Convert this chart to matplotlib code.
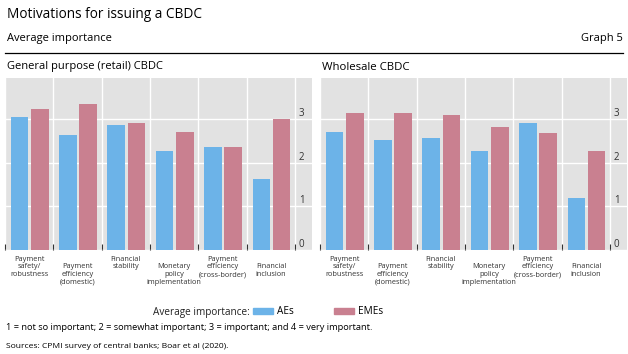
import numpy as np
import matplotlib
matplotlib.use('Agg')
import matplotlib.pyplot as plt
from matplotlib.patches import Patch

plt.rcParams['font.family'] = ['Open Sans', 'DejaVu Sans']

# Data
categories = ['Payment\nsafety/\nrobustness', 'Payment\nefficiency\n(domestic)',
              'Financial\nstability', 'Monetary\npolicy\nimplementation',
              'Payment\nefficiency\n(cross-border)', 'Financial\ninclusion']
retail_aes = [3.04, 2.63, 2.86, 2.27, 2.35, 1.62]
retail_emes = [3.24, 3.34, 2.91, 2.71, 2.35, 3.01]
wholesale_aes = [2.71, 2.52, 2.56, 2.27, 2.91, 1.20]
wholesale_emes = [3.13, 3.13, 3.09, 2.82, 2.67, 2.27]
yticks = [0, 1, 2, 3]

blue = '#6cb3e8'
pink = '#c98090'
grey_bg = '#e2e2e2'
W, H = 628, 354

fig = plt.figure(figsize=(W / 100, H / 100), dpi=100)

def px_axes(x0, x1, ytop, ybot):
    return fig.add_axes([x0 / W, 1 - ybot / H, (x1 - x0) / W, (ybot - ytop) / H])

def draw_panel(ax, aes, emes):
    x = np.arange(len(categories))
    ax.set_facecolor(grey_bg)
    ax.bar(x - 0.2, aes, width=0.36, color=blue, zorder=3)
    ax.bar(x + 0.22, emes, width=0.36, color=pink, zorder=3)
    ax.set_xlim(-0.5, 5.85)
    ax.set_ylim(0, 3.94)
    for s in ax.spines.values():
        s.set_visible(False)
    ax.set_xticks(x)
    # alternate categories start one line lower, as in the original
    labels = [c if i % 2 == 0 else '\n' + c for i, c in enumerate(categories)]
    ax.set_xticklabels(labels, fontsize=5.3, color='#333333', linespacing=1.15)
    ax.tick_params(axis='x', which='major', length=0, pad=4)
    ax.set_xticks(np.arange(-0.5, 6, 1), minor=True)
    ax.tick_params(axis='x', which='minor', direction='in', length=4,
                   width=0.8, color='#333333')
    ax.grid(True, axis='x', which='minor', color='white', linewidth=1, zorder=1)
    ax.set_yticks(yticks)
    ax.yaxis.tick_right()
    ax.tick_params(axis='y', length=0, pad=-9.5, labelsize=7, labelcolor='#333333')
    for lab in ax.get_yticklabels():
        lab.set_va('bottom')
    ax.grid(True, axis='y', which='major', color='white', linewidth=1, zorder=1)
    ax.set_axisbelow(True)

ax1 = px_axes(5, 312, 78, 250)
draw_panel(ax1, retail_aes, retail_emes)
ax2 = px_axes(320, 627, 78, 250)
draw_panel(ax2, wholesale_aes, wholesale_emes)

# header
fig.text(7 / W, 1 - 14 / H, 'Motivations for issuing a CBDC', fontsize=9.85,
         va='center', ha='left')
fig.text(7 / W, 1 - 38 / H, 'Average importance', fontsize=8, va='center', ha='left')
fig.text(623 / W, 1 - 38 / H, 'Graph 5', fontsize=8, va='center', ha='right')
fig.add_artist(plt.Line2D([5 / W, 623 / W], [1 - 52.5 / H, 1 - 52.5 / H],
                          color='black', linewidth=0.9))
fig.text(7 / W, 1 - 67 / H, 'General purpose (retail) CBDC', fontsize=8,
         va='center', ha='left')
fig.text(322 / W, 1 - 67 / H, 'Wholesale CBDC', fontsize=8.2, va='center', ha='left')

# legend
fig.text(250 / W, 1 - 312 / H, 'Average importance:', fontsize=7.2, va='center',
         ha='right', color='#222222')
handles = [Patch(color=blue, label='AEs'), Patch(color=pink, label='EMEs')]
fig.legend(handles=handles, loc='center left', bbox_to_anchor=(253 / W, 1 - 312 / H),
           ncol=2, frameon=False, fontsize=7.2, handlelength=2.0, handleheight=0.5,
           handletextpad=0.4, columnspacing=4.0, borderpad=0, borderaxespad=0)

# footnotes
fig.text(6 / W, 1 - 328 / H,
         '1 = not so important; 2 = somewhat important; 3 = important; and 4 = very important.',
         fontsize=6.7, va='center', ha='left')
fig.text(6 / W, 1 - 347 / H, 'Sources: CPMI survey of central banks; Boar et al (2020).',
         fontsize=6.1, va='center', ha='left')

fig.savefig('out.png', dpi=100)
